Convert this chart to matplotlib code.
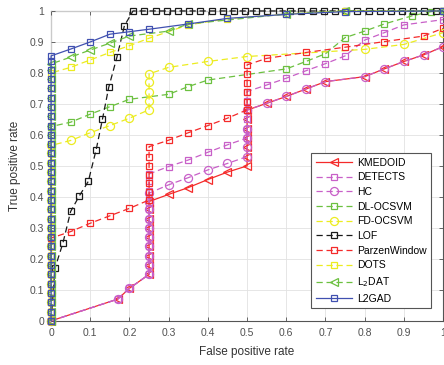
import matplotlib
matplotlib.use("Agg")
import matplotlib.pyplot as plt

# TPR steps taken while a curve climbs a vertical run (FPR constant)
steps = [0.00, 0.03, 0.06, 0.09, 0.12, 0.15, 0.18, 0.21, 0.24, 0.27, 0.30,
         0.33, 0.36, 0.39, 0.42, 0.45, 0.48, 0.51, 0.54, 0.57, 0.60, 0.63,
         0.66, 0.69, 0.72, 0.75, 0.78, 0.81, 0.84]

labels = ['KMEDOID', 'DETECTS', 'HC', 'DL-OCSVM', 'FD-OCSVM', 'LOF',
          'ParzenWindow', 'DOTS', 'L$_2$DAT', 'L2GAD']

# common start for KMEDOID / DETECTS / HC
base_fpr = [0, 0.17, 0.2, 0.25, 0.25, 0.25, 0.25, 0.25, 0.25, 0.25, 0.25]
base_tpr = [0, 0.07, 0.105, 0.15, 0.18, 0.21, 0.24, 0.27, 0.30, 0.33, 0.36]

kmedoid_fpr = base_fpr + [0.25, 0.3, 0.35, 0.4, 0.45, 0.5, 0.5, 0.5, 0.5, 0.5, 0.5, 0.5,
                          0.55, 0.6, 0.65, 0.7, 0.8, 0.85, 0.9, 0.95, 1.0]
kmedoid_tpr = base_tpr + [0.385, 0.408, 0.43, 0.456, 0.48, 0.50, 0.53, 0.56, 0.59, 0.62, 0.65, 0.68,
                          0.702, 0.724, 0.748, 0.772, 0.788, 0.813, 0.837, 0.858, 0.885]

detects_fpr = base_fpr + [0.25, 0.25, 0.25, 0.25, 0.3, 0.35, 0.4, 0.45, 0.5, 0.5, 0.5, 0.5, 0.5, 0.5,
                          0.55, 0.6, 0.65, 0.7, 0.75, 0.8, 0.85, 0.9, 1.0]
detects_tpr = base_tpr + [0.39, 0.42, 0.45, 0.474, 0.498, 0.519, 0.544, 0.568, 0.59, 0.62, 0.65, 0.68, 0.71, 0.74,
                          0.761, 0.783, 0.807, 0.83, 0.855, 0.906, 0.93, 0.955, 0.972]

hc_fpr = base_fpr + [0.25, 0.25, 0.3, 0.35, 0.4, 0.45, 0.5, 0.5, 0.5, 0.5, 0.5,
                     0.55, 0.6, 0.65, 0.7, 0.8, 0.85, 0.9, 0.95, 1.0]
hc_tpr = base_tpr + [0.385, 0.412, 0.439, 0.462, 0.487, 0.508, 0.53, 0.56, 0.59, 0.62, 0.68,
                     0.702, 0.724, 0.748, 0.772, 0.788, 0.813, 0.837, 0.858, 0.885]

dlocsvm_fpr = [0.05, 0.1, 0.15, 0.2, 0.3, 0.35, 0.4, 0.6, 0.65, 0.7, 0.75, 0.8, 0.85, 0.92, 0.97, 1.0]
dlocsvm_tpr = [0.641, 0.667, 0.691, 0.715, 0.731, 0.756, 0.777, 0.813, 0.837, 0.862, 0.914, 0.935,
               0.958, 0.984, 0.998, 1.0]
dlocsvm_start = 0.627

fdocsvm_fpr = [0.05, 0.1, 0.15, 0.2, 0.25, 0.25, 0.25, 0.25, 0.25, 0.3, 0.4, 0.5, 0.8, 0.9, 1.0]
fdocsvm_tpr = [0.582, 0.607, 0.63, 0.654, 0.681, 0.71, 0.74, 0.77, 0.797, 0.818, 0.837, 0.853,
               0.876, 0.892, 0.93]
fdocsvm_start = 0.566

lof_fpr = [0, 0.01, 0.03, 0.05, 0.072, 0.095, 0.115, 0.131, 0.147, 0.168, 0.187, 0.209,
           0.238, 0.267, 0.295, 0.324, 0.352, 0.381, 0.41, 0.438, 0.467, 0.495, 0.524,
           0.552, 0.581, 0.61, 0.638, 0.667, 0.695, 0.724, 0.752, 0.781, 0.81, 0.838,
           0.867, 0.895, 0.924, 0.952, 0.981, 1.0]
lof_tpr = [0, 0.17, 0.25, 0.353, 0.403, 0.45, 0.552, 0.65, 0.753, 0.851, 0.952, 1.0] + [1.0] * 28

parzen_fpr = [0.05, 0.1, 0.15, 0.2, 0.25, 0.25, 0.25, 0.25, 0.25, 0.25, 0.25,
              0.3, 0.35, 0.4, 0.45, 0.5, 0.5, 0.5, 0.5, 0.5, 0.5,
              0.55, 0.65, 0.75, 0.85, 0.95, 1.0]
parzen_tpr = [0.288, 0.315, 0.339, 0.363, 0.39, 0.417, 0.444, 0.471, 0.50, 0.53, 0.562,
              0.583, 0.607, 0.63, 0.654, 0.681, 0.707, 0.74, 0.767, 0.797, 0.826,
              0.847, 0.866, 0.883, 0.901, 0.919, 0.944]
parzen_start = 0.267

dots_fpr = [0.05, 0.1, 0.15, 0.2, 0.25, 0.35, 0.45, 0.6, 0.75, 1.0]
dots_tpr = [0.818, 0.842, 0.866, 0.888, 0.912, 0.955, 0.975, 0.99, 1.0, 1.0]
dots_start = 0.80

l2dat_fpr = [0.05, 0.1, 0.15, 0.2, 0.3, 0.35, 0.6, 0.75, 1.0]
l2dat_tpr = [0.851, 0.874, 0.896, 0.919, 0.935, 0.958, 0.99, 1.0, 1.0]
l2dat_start = 0.829

l2gad_fpr = [0.05, 0.1, 0.15, 0.2, 0.25, 0.35, 0.45, 0.6, 0.75, 1.0]
l2gad_tpr = [0.877, 0.9, 0.925, 0.933, 0.941, 0.958, 0.976, 0.989, 0.998, 1.0]
l2gad_start = 0.855


def climb(start, fpr, tpr):
    # vertical run up the left axis, then the rest of the curve
    ys = [s for s in steps if s < start - 0.01] + [start]
    return [0] * len(ys) + fpr, ys + tpr


red = '#f42a2a'
magenta = '#c860c8'
green = '#6cc040'
yellow = '#ecec20'
black = '#1a1a1a'
blue = '#4050b0'
dash = (0, (5, 3))

series = [
    (kmedoid_fpr, kmedoid_tpr, red, '-', '<'),
    (detects_fpr, detects_tpr, magenta, dash, 's'),
    (hc_fpr, hc_tpr, magenta, dash, 'o'),
    (*climb(dlocsvm_start, dlocsvm_fpr, dlocsvm_tpr), green, dash, 's'),
    (*climb(fdocsvm_start, fdocsvm_fpr, fdocsvm_tpr), yellow, dash, 'o'),
    (lof_fpr, lof_tpr, black, dash, 's'),
    (*climb(parzen_start, parzen_fpr, parzen_tpr), red, dash, 's'),
    (*climb(dots_start, dots_fpr, dots_tpr), yellow, dash, 's'),
    (*climb(l2dat_start, l2dat_fpr, l2dat_tpr), green, dash, '<'),
    (*climb(l2gad_start, l2gad_fpr, l2gad_tpr), blue, '-', 's'),
]

plt.rcParams['font.family'] = ['Liberation Sans', 'DejaVu Sans']
fig = plt.figure(figsize=(4.44, 3.65), dpi=100)
ax = fig.add_axes([0.115, 0.121, 0.883, 0.849])

for (xs, ys, c, ls, m), lab in zip(series, labels):
    ms = 5.8 if m != 's' else 5.0
    ax.plot(xs, ys, color=c, linestyle=ls, linewidth=0.9, marker=m, markersize=ms,
            markerfacecolor='none', markeredgewidth=0.9, label=lab, clip_on=False)

ax.set_xlim(0, 1)
ax.set_ylim(0, 1)
ticks = [0, 0.1, 0.2, 0.3, 0.4, 0.5, 0.6, 0.7, 0.8, 0.9, 1]
ticklabels = ['0', '0.1', '0.2', '0.3', '0.4', '0.5', '0.6', '0.7', '0.8', '0.9', '1']
ax.set_xticks(ticks)
ax.set_xticklabels(ticklabels)
ax.set_yticks(ticks)
ax.set_yticklabels(ticklabels)
ax.tick_params(direction='in', length=3, width=0.6, labelsize=7.5, colors='#505050',
               top=True, right=True, pad=5)
ax.grid(True, color='#e2e2e2', linewidth=0.6)
ax.set_axisbelow(True)
for sp in ax.spines.values():
    sp.set_color('#555555')
    sp.set_linewidth(0.8)
    sp.set_zorder(0)

ax.set_xlabel('False positive rate', fontsize=8.5, color='#333333', labelpad=6)
ax.set_ylabel('True positive rate', fontsize=8.5, color='#333333', labelpad=6)

leg = ax.legend(loc='lower right', bbox_to_anchor=(0.969, 0.042), borderaxespad=0,
                fontsize=7.5, handlelength=3.5, handletextpad=0.5, labelspacing=0.45,
                fancybox=False, framealpha=1, edgecolor='#555555', borderpad=0.4)
leg.get_frame().set_linewidth(0.8)
leg.set_zorder(5)

fig.savefig('out.png', dpi=100)
